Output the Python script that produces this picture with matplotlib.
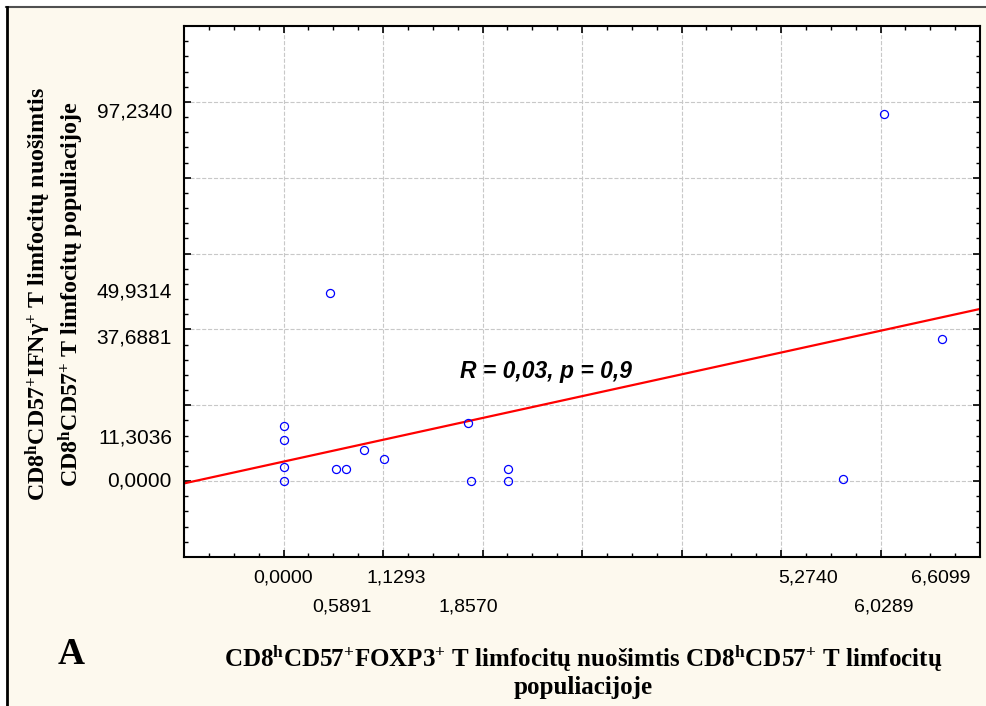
import numpy as np
import matplotlib
matplotlib.use('Agg')
import matplotlib.pyplot as plt
from matplotlib.patches import Rectangle
from matplotlib.lines import Line2D

# data
foxp3 = [0.00, 0.00, 0.00, 0.00, 0.53, 0.63, 0.81, 1.01, 1.85, 1.88, 2.26, 2.26, 0.47, 5.62, 6.04, 6.62]
ifng = [14.6, 10.9, 3.6, 0.0, 3.1, 3.1, 8.3, 5.8, 15.2, 0.0, 3.1, 0.0, 49.7, 0.5, 96.8, 37.6]

fit_intercept = 5.15
fit_slope = 5.75

x_label_vals = [0.0, 0.5891, 1.1293, 1.8570, 5.2740, 6.0289, 6.6099]
x_label_txt = ['0,0000', '0,5891', '1,1293', '1,8570', '5,2740', '6,0289', '6,6099']
y_label_vals = [0.0, 11.3036, 37.6881, 49.9314, 97.2340]
y_label_txt = ['0,0000', '11,3036', '37,6881', '49,9314', '97,2340']

stat_text = 'R = 0,03, p = 0,9'
xlab = r'CD8$^{\mathrm{h}}$CD57$^{+}$FOXP3$^{+}$ T limfocitų nuošimtis CD8$^{\mathrm{h}}$CD57$^{+}$ T limfocitų' + '\npopuliacijoje'
ylab = r'CD8$^{\mathrm{h}}$CD57$^{+}$IFNγ$^{+}$ T limfocitų nuošimtis' + '\n' + r'CD8$^{\mathrm{h}}$CD57$^{+}$ T limfocitų populiacijoje'

plt.rcParams['mathtext.fontset'] = 'custom'
plt.rcParams['mathtext.rm'] = 'Liberation Serif:bold'
plt.rcParams['mathtext.it'] = 'Liberation Serif:bold'
plt.rcParams['mathtext.bf'] = 'Liberation Serif:bold'
plt.rcParams['mathtext.default'] = 'rm'

W, H = 987, 706
fig = plt.figure(figsize=(W / 100, H / 100), dpi=100, facecolor='white')

# cream panel with border on top and left
cream = '#fdf9ee'
fig.patches.append(Rectangle((6 / W, 0), 1, 1 - 7 / H, transform=fig.transFigure,
                             facecolor=cream, edgecolor='none', zorder=-10))
fig.lines.append(Line2D([6 / W, 1], [1 - 7 / H, 1 - 7 / H], transform=fig.transFigure,
                        color='#505050', lw=1.5))
fig.lines.append(Line2D([6.5 / W, 6.5 / W], [0, 1 - 7 / H], transform=fig.transFigure,
                        color='black', lw=2))

ax = fig.add_axes([184 / W, 1 - 557 / H, (980 - 184) / W, (557 - 26) / H])
ax.set_facecolor('white')

ax.plot(foxp3, ifng, 'o', mfc='none', mec='#0000ff', ms=5.8, mew=0.9, zorder=3)

xl = np.array([-1, 7])
ax.plot(xl, fit_intercept + fit_slope * xl, color='red', lw=1.6, zorder=2)

ax.set_xlim(-1, 7)
ax.set_ylim(-20, 120)
ax.set_xticks(np.arange(-1, 8, 1))
ax.set_xticks(np.arange(-1, 7.01, 0.25), minor=True)
ax.set_yticks(np.arange(-20, 121, 20))
ax.set_yticks(np.arange(-20, 121, 4), minor=True)
ax.set_xticklabels([])
ax.set_yticklabels([])
ax.tick_params(which='both', direction='in', top=True, right=True, color='black')
ax.tick_params(which='major', length=5, width=1.2)
ax.tick_params(which='minor', length=3, width=1)
ax.grid(True, which='major', color='#c8c8c8', ls='--', lw=0.8)
for s in ax.spines.values():
    s.set_linewidth(1.5)
    s.set_color('black')

# staggered x labels at data values
for i, (v, t) in enumerate(zip(x_label_vals, x_label_txt)):
    off = -21 if i % 2 == 0 else -50
    ax.annotate(t, xy=(v, 0), xycoords=('data', 'axes fraction'),
                xytext=(0, off * 0.72), textcoords='offset points',
                ha='center', va='center', fontsize=14, family='Liberation Sans')

for v, t in zip(y_label_vals, y_label_txt):
    ax.annotate(t, xy=(0, v), xycoords=('axes fraction', 'data'),
                xytext=(-12 * 0.72, 0), textcoords='offset points',
                ha='right', va='center', fontsize=15, family='Liberation Sans')

ax.text(2.64, 29, stat_text, ha='center', va='center', fontsize=16.5,
        family='Liberation Sans', fontweight='bold', style='italic')

fig.text(583 / W, 1 - 671 / H, xlab, ha='center', va='center', fontsize=18,
         family='Liberation Serif', fontweight='bold', linespacing=1.15)
fig.text(55 / W, 1 - 294 / H, ylab, ha='center', va='center', fontsize=17.3,
         family='Liberation Serif', fontweight='bold', rotation=90, linespacing=1.15)
fig.text(71 / W, 1 - 655 / H, 'A', ha='center', va='center', fontsize=27,
         family='Liberation Serif', fontweight='bold')

fig.savefig('out.png', dpi=100, facecolor=fig.get_facecolor())
